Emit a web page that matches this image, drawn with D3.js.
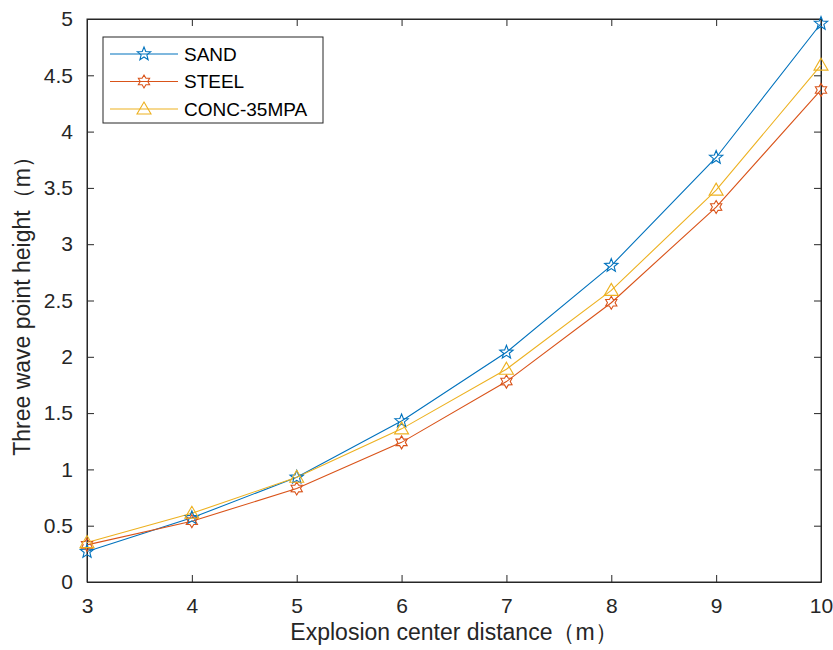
<!DOCTYPE html>
<html><head><meta charset="utf-8">
<script src="https://cdn.jsdelivr.net/npm/d3@7"></script>
<style>body{margin:0;background:#fff}</style>
</head><body><svg id="c" width="833" height="650"></svg>
<script>
const distances = [3,4,5,6,7,8,9,10];
const sand = [0.27,0.57,0.93,1.43,2.04,2.81,3.77,4.96];
const steel = [0.33,0.54,0.83,1.24,1.78,2.48,3.33,4.37];
const conc = [0.35,0.61,0.93,1.36,1.89,2.59,3.48,4.59];
const seriesNames = ["SAND","STEEL","CONC-35MPA"];
const xTicks = [3,4,5,6,7,8,9,10];
const yTicks = [0,0.5,1,1.5,2,2.5,3,3.5,4,4.5,5];

const colors = ["#0072BD","#D95319","#EDB120"];
const symbols = ["pent","hex","tri"];
const series = [sand, steel, conc];

const svg = d3.select("#c");
const L=87, R=821, T=19, B=582;
const x = d3.scaleLinear().domain([3,10]).range([L,R]);
const y = d3.scaleLinear().domain([0,5]).range([B,T]);
const font = "'Liberation Sans', Arial, sans-serif";
const axCol = "#262626";

// axes with inward ticks
const tk = 7;
const gx = svg.append("g").attr("transform",`translate(0,${B})`)
  .call(d3.axisBottom(x).tickValues(xTicks).tickSizeInner(-tk).tickSizeOuter(0).tickPadding(16).tickFormat(d3.format("d")));
const gxt = svg.append("g").attr("transform",`translate(0,${T})`)
  .call(d3.axisTop(x).tickValues(xTicks).tickSizeInner(-tk).tickSizeOuter(0).tickFormat(""));
const gy = svg.append("g").attr("transform",`translate(${L},0)`)
  .call(d3.axisLeft(y).tickValues(yTicks).tickSizeInner(-tk).tickSizeOuter(0).tickPadding(14).tickFormat(d=>String(d)));
const gyr = svg.append("g").attr("transform",`translate(${R},0)`)
  .call(d3.axisRight(y).tickValues(yTicks).tickSizeInner(-tk).tickSizeOuter(0).tickFormat(""));
[gx,gxt,gy,gyr].forEach(g=>{
  g.selectAll("path,line").attr("stroke",axCol).attr("stroke-width",1);
  g.selectAll("text").attr("fill","#262626").style("font-family",font).style("font-size","21px");
});
svg.append("rect").attr("x",L).attr("y",T).attr("width",R-L).attr("height",B-T)
  .attr("fill","none").attr("stroke",axCol).attr("stroke-width",1);

// symbol paths
function starPath(n, ro, ri){
  const pts=[];
  for(let i=0;i<2*n;i++){
    const r = i%2===0?ro:ri;
    const a = -Math.PI/2 + i*Math.PI/n;
    pts.push([r*Math.cos(a), r*Math.sin(a)]);
  }
  return "M"+pts.map(p=>p[0].toFixed(2)+","+p[1].toFixed(2)).join("L")+"Z";
}
function markerPath(s){
  if(s==="pent") return starPath(5,7,3);
  if(s==="hex") return starPath(6,6.5,3.8);
  return "M0,-7L7,5L-7,5Z";
}

const line = d3.line().x((d,i)=>x(distances[i])).y(d=>y(d));
series.forEach((s,k)=>{
  svg.append("path").datum(s).attr("d",line).attr("fill","none")
    .attr("stroke",colors[k]).attr("stroke-width",1.1);
});
series.forEach((s,k)=>{
  svg.append("g").selectAll("path").data(s).join("path")
    .attr("transform",(d,i)=>`translate(${x(distances[i])},${y(d)})`)
    .attr("d",markerPath(symbols[k])).attr("fill","none")
    .attr("stroke",colors[k]).attr("stroke-width",1.1);
});

// legend
const lg = svg.append("g");
lg.append("rect").attr("x",103).attr("y",37).attr("width",220).attr("height",86)
  .attr("fill","#fff").attr("stroke",axCol).attr("stroke-width",1);
seriesNames.forEach((n,k)=>{
  const yy = 54 + k*27.5;
  lg.append("line").attr("x1",110).attr("x2",178).attr("y1",yy).attr("y2",yy)
    .attr("stroke",colors[k]).attr("stroke-width",1.1);
  lg.append("path").attr("transform",`translate(144,${yy})`).attr("d",markerPath(symbols[k]))
    .attr("fill","none").attr("stroke",colors[k]).attr("stroke-width",1.1);
  lg.append("text").attr("x",184).attr("y",yy).attr("dy","0.36em").text(n)
    .attr("fill","#000").style("font-family",font).style("font-size","19px");
});

// axis titles
svg.append("text").attr("x",(L+R)/2).attr("y",640).attr("text-anchor","middle")
  .text("Explosion center distance（m）").attr("fill","#262626")
  .style("font-family",font).style("font-size","23px");
svg.append("text").attr("transform",`translate(30,${(T+B)/2}) rotate(-90)`).attr("text-anchor","middle")
  .text("Three wave point height（m）").attr("fill","#262626")
  .style("font-family",font).style("font-size","23px");
</script></body></html>
